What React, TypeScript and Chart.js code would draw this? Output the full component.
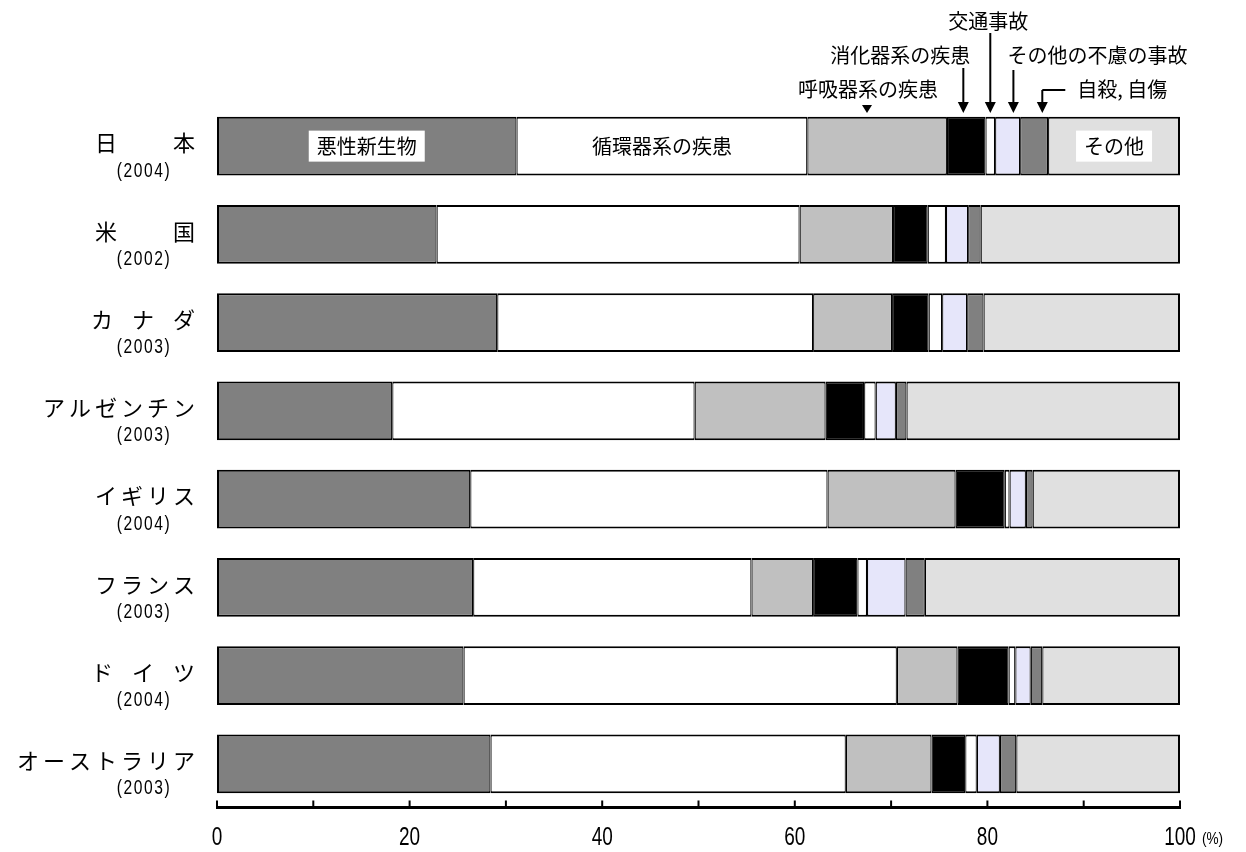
import React, { useEffect, useRef } from "react";
import { Chart, registerables } from "chart.js";

Chart.register(...registerables);

// ---- data ----
const countries = [
  "日\u3000\u3000本",
  "米\u3000\u3000国",
  "カ\u2002ナ\u2002ダ",
  "アルゼンチン",
  "イギリス",
  "フランス",
  "ド\u2002イ\u2002ツ",
  "オーストラリア",
];
const years = ["(2004)", "(2002)", "(2003)", "(2003)", "(2004)", "(2003)", "(2004)", "(2003)"];

const seriesNames = [
  "悪性新生物",
  "循環器系の疾患",
  "呼吸器系の疾患",
  "消化器系の疾患",
  "交通事故",
  "その他の不慮の事故",
  "自殺, 自傷",
  "その他",
];

const malignant = [31.1, 22.8, 29.1, 18.2, 26.3, 26.6, 25.6, 28.4];
const circulatory = [30.2, 37.7, 32.8, 31.4, 37.1, 28.9, 45.0, 36.9];
const respiratory = [14.5, 9.7, 8.2, 13.6, 13.3, 6.4, 6.3, 8.9];
const digestive = [4.0, 3.6, 3.8, 4.0, 5.1, 4.6, 5.3, 3.5];
const traffic = [1.0, 1.9, 1.4, 1.2, 0.5, 1.0, 0.7, 1.2];
const otherAccidents = [2.6, 2.3, 2.6, 2.1, 1.7, 4.0, 1.6, 2.4];
const suicide = [2.9, 1.3, 1.7, 1.1, 0.7, 2.0, 1.2, 1.7];
const others = [13.7, 20.7, 20.4, 28.4, 15.3, 26.5, 14.3, 17.0];

const xTickLabels = [0, 20, 40, 60, 80, 100];
const xTickMarks = [0, 10, 20, 30, 40, 50, 60, 70, 80, 90, 100];
const xUnit = "(%)";

const seriesValues = [malignant, circulatory, respiratory, digestive, traffic, otherAccidents, suicide, others];
const seriesColors = ["#808080", "#ffffff", "#c0c0c0", "#000000", "#ffffff", "#e6e6fa", "#808080", "#e0e0e0"];

const JP = "'Noto Sans CJK JP', 'Noto Sans', sans-serif";
const NUM = "'Liberation Sans', Arial, sans-serif";

function arrowDown(ctx: CanvasRenderingContext2D, x: number, y0: number, tip: number) {
  ctx.beginPath();
  ctx.moveTo(x, y0);
  ctx.lineTo(x, tip - 9);
  ctx.stroke();
  ctx.beginPath();
  ctx.moveTo(x - 5.5, tip - 11);
  ctx.lineTo(x + 5.5, tip - 11);
  ctx.lineTo(x, tip);
  ctx.closePath();
  ctx.fill();
}

function narrowText(ctx: CanvasRenderingContext2D, text: string, x: number, y: number, sx: number) {
  ctx.save();
  ctx.translate(x, y);
  ctx.scale(sx, 1);
  ctx.fillText(text, 0, 0);
  ctx.restore();
}

const decorPlugin = {
  id: "decor",
  afterDraw(chart: any) {
    const { ctx, chartArea, scales } = chart;
    const xs = scales.x;
    const ys = scales.y;
    ctx.save();
    ctx.fillStyle = "#000";
    ctx.strokeStyle = "#000";

    // x axis line with upward tick marks
    const axisY = chartArea.bottom - 0.5;
    ctx.lineWidth = 3;
    ctx.beginPath();
    ctx.moveTo(xs.left - 1, axisY);
    ctx.lineTo(xs.right + 1, axisY);
    ctx.stroke();
    ctx.lineWidth = 2;
    const marks: number[] = xs.ticks && xs.ticks.length > 2 ? xs.ticks.map((t: any) => t.value) : xTickMarks;
    marks.forEach((v) => {
      const px = xs.getPixelForValue(v);
      ctx.beginPath();
      ctx.moveTo(px, axisY);
      ctx.lineTo(px, axisY - 7);
      ctx.stroke();
    });

    // tick labels (condensed digits)
    ctx.font = `25px ${NUM}`;
    ctx.textAlign = "center";
    ctx.textBaseline = "middle";
    xTickLabels.forEach((v) => {
      narrowText(ctx, String(v), xs.getPixelForValue(v), chartArea.bottom + 30, 0.76);
    });
    ctx.font = `16px ${NUM}`;
    ctx.textAlign = "left";
    narrowText(ctx, xUnit, xs.getPixelForValue(100) + 22, chartArea.bottom + 32, 0.85);

    // category labels
    countries.forEach((name, i) => {
      const cy = ys.getPixelForValue(i);
      ctx.font = `22px ${JP}`;
      (ctx as any).letterSpacing = "4px";
      ctx.textAlign = "right";
      ctx.fillText(name, chartArea.left - 18, cy - 3);
      (ctx as any).letterSpacing = "2px";
      ctx.font = `20px ${NUM}`;
      ctx.textAlign = "center";
      narrowText(ctx, years[i], chartArea.left - 73, cy + 25, 0.78);
    });
    (ctx as any).letterSpacing = "0px";

    // labels inside the first bar
    const cum: number[] = [0];
    seriesValues.forEach((s, k) => cum.push(cum[k] + s[0]));
    const cy0 = ys.getPixelForValue(0);
    ctx.font = `20px ${JP}`;
    ctx.textAlign = "center";
    [0, 1, 7].forEach((k) => {
      const cx = xs.getPixelForValue((cum[k] + cum[k + 1]) / 2);
      const w = ctx.measureText(seriesNames[k]).width;
      if (k !== 1) {
        ctx.fillStyle = "#fff";
        ctx.fillRect(cx - w / 2 - 8, cy0 - 15.5, w + 16, 31);
      }
      ctx.fillStyle = "#000";
      ctx.fillText(seriesNames[k], cx, cy0);
    });

    // callouts above the first bar
    const tip = chartArea.top + 11;
    ctx.lineWidth = 2;
    // 呼吸器系の疾患
    const a2 = xs.getPixelForValue(67.5);
    ctx.fillText(seriesNames[2], a2 + 1, 89);
    ctx.beginPath();
    ctx.moveTo(a2 - 5, tip - 8);
    ctx.lineTo(a2 + 5, tip - 8);
    ctx.lineTo(a2, tip);
    ctx.closePath();
    ctx.fill();
    // 消化器系の疾患
    const a3 = xs.getPixelForValue(77.5);
    ctx.textAlign = "right";
    ctx.fillText(seriesNames[3], a3 + 7, 55);
    arrowDown(ctx, a3, 68, tip);
    // 交通事故
    const a4 = xs.getPixelForValue(80.3);
    ctx.textAlign = "center";
    ctx.fillText(seriesNames[4], a4 - 2, 21);
    arrowDown(ctx, a4, 33, tip);
    // その他の不慮の事故
    const a5 = xs.getPixelForValue(82.7);
    ctx.textAlign = "left";
    ctx.fillText(seriesNames[5], a5 - 6, 55);
    arrowDown(ctx, a5, 70, tip);
    // 自殺, 自傷
    const a6 = xs.getPixelForValue(85.7);
    ctx.fillText(seriesNames[6], a6 + 35, 89);
    ctx.beginPath();
    ctx.moveTo(a6 + 23, 90);
    ctx.lineTo(a6, 90);
    ctx.stroke();
    arrowDown(ctx, a6, 90, tip);

    ctx.restore();
  },
};

export default function App() {
  const canvasRef = useRef<HTMLCanvasElement | null>(null);

  useEffect(() => {
    const canvas = canvasRef.current;
    if (!canvas) return;
    const last = seriesNames.length - 1;
    const chart = new Chart(canvas, {
      type: "bar",
      data: {
        labels: countries,
        datasets: seriesNames.map((name, k) => ({
          label: name,
          data: seriesValues[k],
          backgroundColor: seriesColors[k],
          borderColor: "#000",
          borderWidth: { top: 2, bottom: 2, left: k === 0 ? 2 : 1.2, right: k === last ? 2 : 1.2 },
          borderSkipped: false,
          barPercentage: 0.668,
          categoryPercentage: 1,
        })),
      },
      options: {
        responsive: false,
        animation: false,
        indexAxis: "y",
        layout: { padding: { left: 217, right: 66, top: 102, bottom: 44 } },
        plugins: { legend: { display: false }, tooltip: { enabled: false } },
        scales: {
          x: {
            stacked: true,
            display: false,
            min: 0,
            max: 100,
            grid: { display: false },
            ticks: { stepSize: 10 },
          },
          y: {
            stacked: true,
            display: false,
            grid: { display: false },
          },
        },
      },
      plugins: [decorPlugin],
    } as any);
    return () => chart.destroy();
  }, []);

  return (
    <div style={{ position: "fixed", left: 0, top: 0, width: 1246, height: 852, background: "#fff" }}>
      <canvas ref={canvasRef} width={1246} height={852} style={{ display: "block" }} />
    </div>
  );
}
